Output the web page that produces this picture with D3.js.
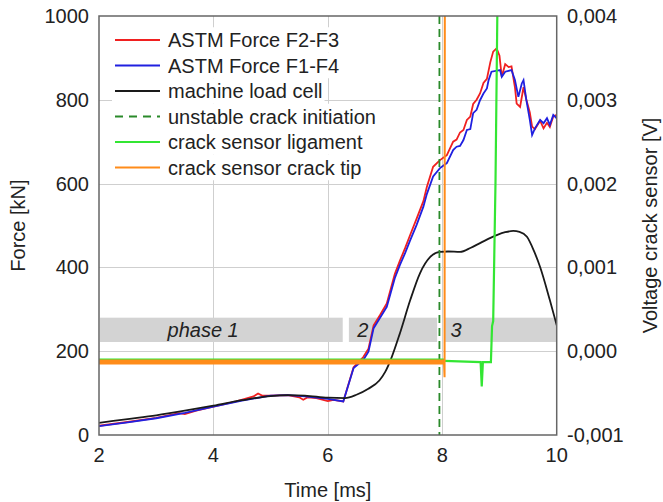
<!DOCTYPE html>
<html>
<head>
<meta charset="utf-8">
<script src="https://cdn.jsdelivr.net/npm/d3@7"></script>
<style>
  body { margin: 0; background: #fff; }
  text { font-family: "Liberation Sans", Arial, sans-serif; fill: #222; }
</style>
</head>
<body>
<div id="chart"></div>
<script>
// force ticks (left) and voltage ticks (right)
const forceTicks = [0, 200, 400, 600, 800, 1000];
const voltTicks = [-0.001, 0, 0.001, 0.002, 0.003, 0.004];
const timeTicks = [2, 4, 6, 8, 10];

// machine load cell [ms, kN]
const loadCell = [[2.0,29],[2.5,38],[3.0,47],[3.5,58],[4.0,70],[4.5,83],[5.0,93],[5.3,95],[5.6,94],[6.0,89],
  [6.3,88],[6.5,96],[6.7,110],[6.9,130],[7.0,150],[7.1,180],[7.26,243],[7.44,322],[7.61,386],[7.79,425],
  [7.96,437],[8.1,438],[8.31,437],[8.5,447],[8.66,458],[8.95,477],[9.1,484],[9.24,487],[9.35,485],[9.48,473],
  [9.6,440],[9.71,401],[9.88,322],[10.0,262]];

// ASTM force F2-F3 [ms, kN]
const astmF2F3 = [[2.0,22],[2.5,31],[3.0,41],[3.4,52],[3.5,50],[3.7,58],[4.0,68],[4.4,80],[4.7,92],[4.78,99],
  [4.85,94],[5.0,94],[5.3,95],[5.5,90],[5.57,84],[5.65,90],[5.8,88],[6.0,81],[6.1,84],[6.27,80],[6.45,162],
  [6.62,186],[6.71,206],[6.80,262],[6.91,286],[7.03,314],[7.17,384],[7.26,416],[7.35,446],[7.44,478],[7.55,516],
  [7.67,558],[7.73,592],[7.84,640],[7.96,656],[8.08,668],[8.19,700],[8.25,705],[8.31,722],[8.37,728],[8.43,752],
  [8.49,760],[8.54,790],[8.60,800],[8.66,815],[8.72,840],[8.78,850],[8.84,890],[8.89,915],[8.95,923],[9.0,905],
  [9.04,855],[9.10,885],[9.16,878],[9.21,880],[9.27,830],[9.30,791],[9.36,783],[9.42,830],[9.47,800],[9.53,770],
  [9.57,736],[9.62,730],[9.71,750],[9.77,732],[9.83,745],[9.88,735],[9.94,760],[10.0,764]];

// ASTM force F1-F4 [ms, kN]
const astmF1F4 = [[2.0,21],[2.5,30],[3.0,40],[3.5,53],[4.0,68],[4.5,82],[5.0,94],[5.3,95],[5.6,92],[6.0,86],
  [6.27,80],[6.45,160],[6.62,179],[6.71,199],[6.80,255],[6.91,279],[7.03,306],[7.17,374],[7.26,406],[7.35,434],
  [7.44,465],[7.55,501],[7.67,545],[7.73,575],[7.84,617],[7.96,637],[8.08,649],[8.19,680],[8.25,688],[8.31,690],
  [8.37,704],[8.43,728],[8.49,730],[8.54,768],[8.60,776],[8.66,799],[8.72,815],[8.78,827],[8.81,847],[8.86,867],
  [9.01,871],[9.04,855],[9.10,867],[9.21,871],[9.27,847],[9.33,807],[9.39,839],[9.42,847],[9.47,799],[9.53,752],
  [9.57,716],[9.62,732],[9.71,752],[9.77,744],[9.83,756],[9.88,740],[9.94,764],[10.0,756]];

// crack sensors [ms, V]
const sensorLigament = [[2.0,-0.000115],[8.03,-0.000115],[8.67,-0.00013],[8.69,-0.00042],[8.71,-0.00013],
  [8.85,-0.00013],[8.87,0.0003],[8.89,0.00036],[8.93,0.002],[8.97,0.0045]];
const sensorCrackTip = [[2.0,-0.00013],[8.03,-0.00013],[8.04,-0.00031],[8.045,0.0045]];
const noiseEnd = { ligament: 8.03, tip: 8.03 };

const crackInit = 7.95;

// phase bands [from, to, label, label position]
const phases = [[2.0, 6.26, "phase 1", 3.82], [6.35, 7.91, "2", 6.61], [8.03, 10.0, "3", 8.24]];
const phaseBand = [222, 280];

const legendItems = [
  { label: "ASTM Force F2-F3", color: "#f02020", dash: null },
  { label: "ASTM Force F1-F4", color: "#2020e0", dash: null },
  { label: "machine load cell", color: "#1a1a1a", dash: null },
  { label: "unstable crack initiation", color: "#2a8a2a", dash: "8,6" },
  { label: "crack sensor ligament", color: "#33e633", dash: null },
  { label: "crack sensor crack tip", color: "#ff8c1a", dash: null }
];

const W = 663, H = 502;
const pLeft = 99, pRight = 556.7, pTop = 16, pBottom = 435;

const svg = d3.select("#chart").append("svg").attr("width", W).attr("height", H);

const x = d3.scaleLinear().domain([2, 10]).range([pLeft, pRight]);
const y = d3.scaleLinear().domain([0, 1000]).range([pBottom, pTop]);
const y2 = d3.scaleLinear().domain([-0.001, 0.004]).range([pBottom, pTop]);

svg.append("defs").append("clipPath").attr("id", "plotClip")
  .append("rect").attr("x", pLeft).attr("y", pTop).attr("width", pRight - pLeft).attr("height", pBottom - pTop);

// gridlines
const grid = svg.append("g").attr("stroke", "#cfcfcf").attr("stroke-width", 1);
grid.selectAll(".gy").data(forceTicks.slice(1, -1)).enter().append("line")
  .attr("x1", pLeft).attr("x2", pRight).attr("y1", d => Math.round(y(d)) + 0.5).attr("y2", d => Math.round(y(d)) + 0.5);
grid.selectAll(".gx").data(timeTicks.slice(1, -1)).enter().append("line")
  .attr("y1", pTop).attr("y2", pBottom).attr("x1", d => Math.round(x(d)) + 0.5).attr("x2", d => Math.round(x(d)) + 0.5);

// phase bands
const ph = svg.append("g");
ph.selectAll("rect").data(phases).enter().append("rect")
  .attr("x", d => x(d[0]) + 1).attr("width", d => x(d[1]) - x(d[0]) - 1)
  .attr("y", y(phaseBand[1])).attr("height", y(phaseBand[0]) - y(phaseBand[1]))
  .attr("fill", "#d3d3d3");
ph.selectAll("text").data(phases).enter().append("text")
  .attr("x", d => x(d[3])).attr("y", (y(phaseBand[0]) + y(phaseBand[1])) / 2 + 7)
  .attr("text-anchor", "middle").attr("font-size", 20).attr("font-style", "italic")
  .text(d => d[2]);

// legend (each entry has a white box)
const lg = svg.append("g");
const lgRow = 25.5, lgY0 = 40;
legendItems.forEach((d, i) => {
  const yy = lgY0 + i * lgRow;
  const t = lg.append("text").attr("x", 168).attr("y", yy + 7).attr("font-size", 20).text(d.label);
  const w = t.node().getComputedTextLength();
  lg.insert("rect", "text").attr("x", 112).attr("y", yy - lgRow / 2).attr("width", 168 + w + 2 - 112)
    .attr("height", lgRow).attr("fill", "#fff");
  lg.append("line").attr("x1", 115).attr("x2", 160).attr("y1", yy).attr("y2", yy)
    .attr("stroke", d.color).attr("stroke-width", 1.8).attr("stroke-dasharray", d.dash);
});

const plot = svg.append("g").attr("clip-path", "url(#plotClip)");
const forceLine = d3.line().x(d => x(d[0])).y(d => y(d[1]));
const voltLine = d3.line().x(d => x(d[0])).y(d => y2(d[1]));

plot.append("path").datum(astmF2F3).attr("d", forceLine)
  .attr("fill", "none").attr("stroke", legendItems[0].color).attr("stroke-width", 1.8);
plot.append("path").datum(astmF1F4).attr("d", forceLine)
  .attr("fill", "none").attr("stroke", legendItems[1].color).attr("stroke-width", 1.8);
plot.append("path").datum(loadCell).attr("d", d3.line().x(d => x(d[0])).y(d => y(d[1])).curve(d3.curveMonotoneX))
  .attr("fill", "none").attr("stroke", legendItems[2].color).attr("stroke-width", 1.8);

// crack initiation
plot.append("line").attr("x1", x(crackInit)).attr("x2", x(crackInit)).attr("y1", pTop).attr("y2", pBottom)
  .attr("stroke", legendItems[3].color).attr("stroke-width", 1.8).attr("stroke-dasharray", "8,5");

// sensor signals: noisy baseline drawn as a wider band, transitions thin
const lig = plot.append("g");
lig.append("path").datum(sensorLigament.filter(d => d[0] <= noiseEnd.ligament)).attr("d", voltLine)
  .attr("fill", "none").attr("stroke", legendItems[4].color).attr("stroke-width", 4.5);
lig.append("path").datum(sensorLigament.filter(d => d[0] >= noiseEnd.ligament)).attr("d", voltLine)
  .attr("fill", "none").attr("stroke", legendItems[4].color).attr("stroke-width", 2.2);
const tip = plot.append("g");
tip.append("path").datum(sensorCrackTip.filter(d => d[0] <= noiseEnd.tip)).attr("d", voltLine)
  .attr("fill", "none").attr("stroke", legendItems[5].color).attr("stroke-width", 5);
tip.append("path").datum(sensorCrackTip.filter(d => d[0] >= noiseEnd.tip)).attr("d", voltLine)
  .attr("fill", "none").attr("stroke", legendItems[5].color).attr("stroke-width", 2);

// frame
svg.append("rect").attr("x", pLeft).attr("y", pTop).attr("width", pRight - pLeft).attr("height", pBottom - pTop)
  .attr("fill", "none").attr("stroke", "#666").attr("stroke-width", 1.5);

// tick labels
const fmt = d => d3.format(".3f")(d).replace(".", ",").replace("\u2212", "-");
svg.append("g").selectAll("text").data(forceTicks).enter().append("text")
  .attr("x", 89).attr("y", d => y(d) + 7).attr("text-anchor", "end").attr("font-size", 20).text(d => d);
svg.append("g").selectAll("text").data(voltTicks).enter().append("text")
  .attr("x", 567).attr("y", d => y2(d) + 7).attr("font-size", 20).text(d => fmt(d));
svg.append("g").selectAll("text").data(timeTicks).enter().append("text")
  .attr("x", d => x(d)).attr("y", 462).attr("text-anchor", "middle").attr("font-size", 20).text(d => d);

// axis titles
svg.append("text").attr("x", (pLeft + pRight) / 2).attr("y", 497).attr("text-anchor", "middle")
  .attr("font-size", 20).text("Time [ms]");
svg.append("text").attr("transform", `translate(25,${(pTop + pBottom) / 2}) rotate(-90)`)
  .attr("text-anchor", "middle").attr("font-size", 20).text("Force [kN]");
svg.append("text").attr("transform", `translate(657,${(pTop + pBottom) / 2}) rotate(-90)`)
  .attr("text-anchor", "middle").attr("font-size", 20).text("Voltage crack sensor [V]");
</script>
</body>
</html>
